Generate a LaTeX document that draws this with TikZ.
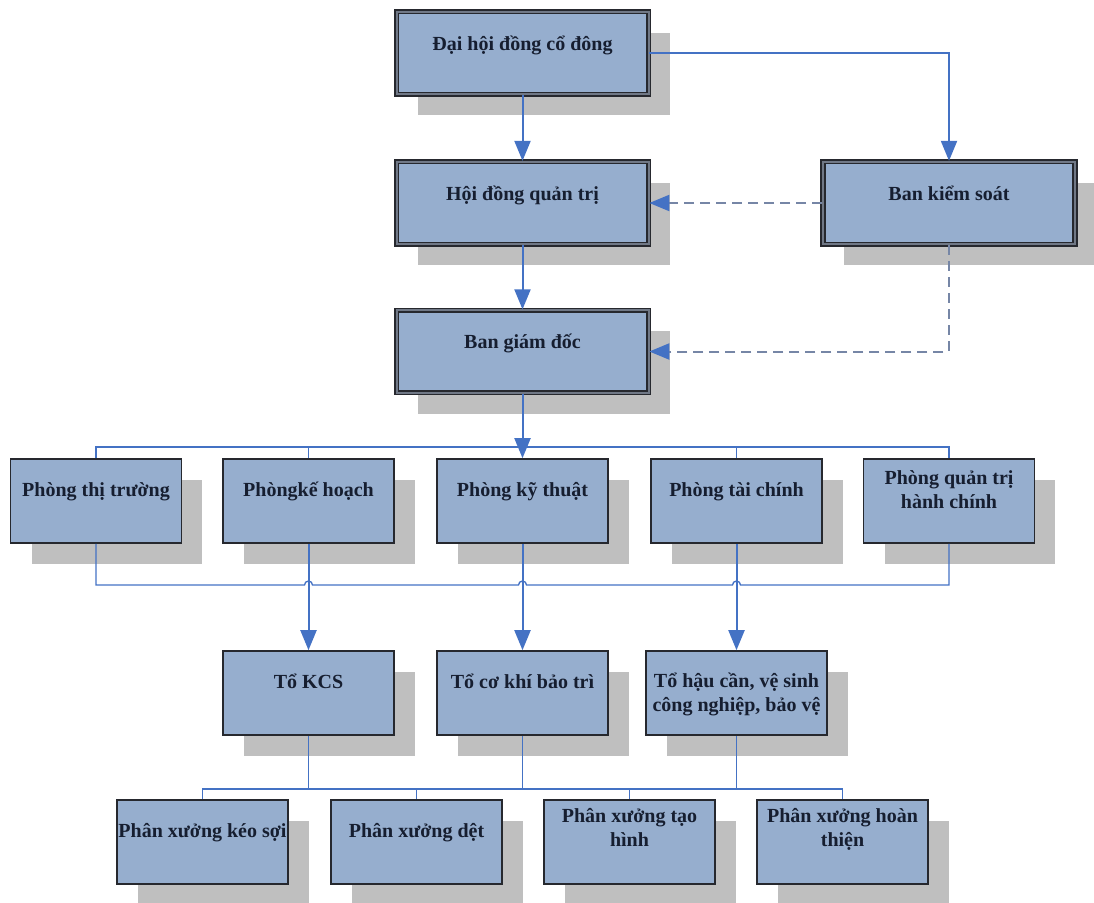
\documentclass[tikz,border=0pt]{standalone}
\usepackage{fontspec}
\setmainfont{Liberation Serif}
\usetikzlibrary{arrows.meta,shadows,calc}

\definecolor{fond}{RGB}{150,174,206}
\definecolor{ombre}{RGB}{191,191,191}
\definecolor{bord}{RGB}{38,40,46}
\definecolor{milieu}{RGB}{112,120,134}
\definecolor{bleu}{RGB}{68,114,196}
\definecolor{gristir}{RGB}{118,134,166}
\definecolor{encre}{RGB}{22,30,48}

\begin{document}
\begin{tikzpicture}[x=0.75pt, y=-0.75pt]
	\tikzset{boite/.style={draw=bord, line width=1.2pt, fill=fond, text=encre, minimum width=128pt, minimum height=63pt, inner sep=0pt, align=center, font=\fontsize{15}{18}\selectfont\bfseries, text height=11pt, text depth=18pt, drop shadow={shadow xshift=15.75pt, shadow yshift=-15.75pt, fill=ombre, opacity=1}},
		cadre/.style={boite, double=milieu, double distance=1.5pt, minimum width=189pt, minimum height=62pt, text depth=15pt},
		deux/.style={text height=13.5pt, text depth=2pt},
		fleche/.style={draw=bleu, line width=1.5pt, -{Triangle[length=15pt, width=12pt, color=bleu]}},
		lien/.style={draw=bleu, line width=1pt},
		tirets/.style={fleche, draw=gristir, dash pattern=on 7.5pt off 4.5pt}};

	\useasboundingbox (0,0) rectangle (1094,902);

	\node[cadre] (dhcd) at (522.5,  53) {Đại hội đồng cổ đông};
	\node[cadre] (hdqt) at (522.5, 203) {Hội đồng quản trị};
	\node[cadre] (bks)  at (949,   203) {Ban kiểm soát};
	\node[cadre] (bgd)  at (522.5, 351.5) {Ban giám đốc};

	\node[boite] (ptt) at ( 96,   501) {Phòng thị trường};
	\node[boite] (pkh) at (308.5, 501) {Phòngkế hoạch};
	\node[boite] (pkt) at (522.5, 501) {Phòng kỹ thuật};
	\node[boite] (ptc) at (736.5, 501) {Phòng tài chính};
	\node[boite, deux] (pqt) at (949, 501) {Phòng quản trị\\hành chính};

	\node[boite] (kcs)  at (308.5, 693) {Tổ KCS};
	\node[boite] (ckbt) at (522.5, 693) {Tổ cơ khí bảo trì};
	\node[boite, minimum width=136pt, text height=30pt, text depth=2pt] (hc) at (736.5, 693) {Tổ hậu cần, vệ sinh\\công nghiệp, bảo vệ};

	\node[boite] (pks) at (202.5, 842) {Phân xưởng kéo sợi};
	\node[boite] (pd)  at (416.5, 842) {Phân xưởng dệt};
	\node[boite, text height=9pt, text depth=2pt] (pth) at (629.5, 842) {Phân xưởng tạo\\hình};
	\node[boite, text height=9pt, text depth=2pt] (pht) at (842.5, 842) {Phân xưởng hoàn\\thiện};

	\coordinate (b1) at (0, 447);
	\coordinate (b2) at (0, 585);
	\coordinate (b3) at (0, 789);

	% haut
	\draw[fleche] (dhcd) -- (hdqt);
	\draw[fleche] (hdqt) -- (bgd);
	\draw[fleche] (dhcd.east) -| (bks.north);
	\draw[tirets] (bks.west) -- (hdqt.east);
	\draw[tirets] (bks.south) |- (bgd.east);

	% phong
	\draw[lien] (ptt.north) |- (b1 -| pqt) -- (pqt.north);
	\foreach \n in {pkh, ptc} \draw[lien] (\n.north) -- (\n.north |- b1);
	\draw[fleche] (bgd) -- (pkt);

	\draw[lien] (ptt.south) |- ($(b2 -| pkh)+(-4,0)$) arc[start angle=180, end angle=0, radius=3pt]
		-- ($(b2 -| pkt)+(-4,0)$) arc[start angle=180, end angle=0, radius=3pt]
		-- ($(b2 -| ptc)+(-4,0)$) arc[start angle=180, end angle=0, radius=3pt]
		-- (b2 -| pqt) -- (pqt.south);
	\foreach \a/\b in {pkh/kcs, pkt/ckbt, ptc/hc} \draw[fleche] (\a) -- (\b);

	% phan xuong
	\foreach \n in {kcs, ckbt, hc} \draw[lien] (\n.south) -- (\n.south |- b3);
	\draw[lien] (pks.north) |- (b3 -| pht) -- (pht.north);
	\foreach \n in {pd, pth} \draw[lien] (\n.north) -- (\n.north |- b3);
\end{tikzpicture}
\end{document}
